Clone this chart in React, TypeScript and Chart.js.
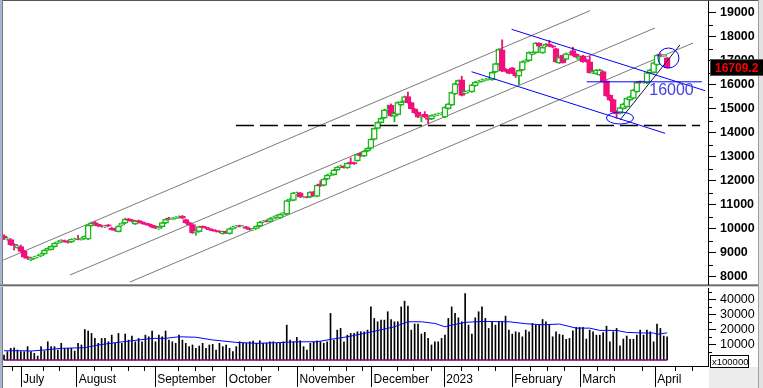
import React, { useEffect, useRef } from 'react';
import { Chart, registerables } from 'chart.js';

Chart.register(...registerables);

const FONT = '"Liberation Sans", Arial, Helvetica, sans-serif';

// ---------- DATA ----------
const opens = [
  9700, 9560, 9550, 9350, 9210, 9250, 9080, 8830, 8700, 8760,
  8820, 8870, 8950, 9110, 9130, 9250, 9400, 9440, 9500, 9470,
  9440, 9540, 9580, 9540, 9600, 9560, 10120, 10260, 10180, 10130,
  10060, 10160, 10030, 10000, 9880, 10150, 10230, 10410, 10370, 10190,
  10340, 10290, 10230, 10200, 10150, 10100, 9990, 10080, 10230, 10450,
  10390, 10430, 10470, 10530, 10380, 10260, 10170, 9840, 9880, 10100,
  10060, 10010, 9960, 9920, 9900, 9790, 9890, 9790, 9990, 10070,
  10130, 10080, 10080, 10000, 9950, 10010, 10110, 10270, 10340, 10290,
  10420, 10470, 10450, 10580, 10610, 11160, 11180, 11450, 11490, 11300,
  11330, 11310, 11540, 11340, 11870, 11800, 12060, 12220, 12250, 12440,
  12560, 12600, 12530, 12780, 12760, 12820, 13150, 13020, 13230, 13340,
  13720, 14180, 14420, 14610, 14930, 15150, 14680, 14750, 15150, 15290,
  15500, 15250, 14990, 14850, 14680, 14760, 14620, 14560, 14700, 14740,
  14770, 14650, 15000, 15150, 15600, 16000, 16200, 15640, 15700, 15700,
  15950, 16090, 16140, 16180, 16220, 16200, 16520, 16850, 17450, 16650,
  16600, 16700, 16480, 16350, 16600, 16950, 17000, 17260, 17330, 17730,
  17320, 17600, 17680, 17620, 17500, 16900, 17220, 17050, 17270, 17420,
  17270, 17050, 17200, 17050, 16950, 16480, 16450, 16400, 16550, 16150,
  15560, 15380, 14900, 14800, 15000, 15070, 15350, 15430, 15700, 16140,
  16080, 16060, 16480, 16500, 16820, 17250, 17180, 17120,
];
const closes = [
  9580, 9600, 9330, 9300, 9290, 9050, 8810, 8760, 8780, 8830,
  8870, 8950, 9110, 9180, 9270, 9400, 9450, 9520, 9460, 9430,
  9560, 9580, 9550, 9600, 9680, 10150, 10240, 10180, 10110, 10090,
  10110, 10110, 9960, 9930, 10110, 10230, 10400, 10350, 10300, 10330,
  10270, 10220, 10180, 10140, 10060, 10020, 10060, 10250, 10390, 10400,
  10430, 10480, 10510, 10440, 10240, 10170, 9830, 9900, 10090, 10050,
  10020, 9960, 9920, 9890, 9860, 9880, 9830, 10000, 10080, 10120,
  10090, 10110, 10010, 9960, 10000, 10110, 10280, 10320, 10300, 10420,
  10480, 10550, 10600, 10660, 11170, 11230, 11490, 11500, 11320, 11330,
  11300, 11530, 11380, 11820, 11780, 12070, 12230, 12290, 12450, 12560,
  12620, 12540, 12730, 12710, 12700, 13100, 13030, 13230, 13350, 13730,
  14180, 14430, 14600, 14950, 14980, 14700, 14820, 15270, 15290, 15500,
  15250, 15000, 14820, 14650, 14700, 14650, 14550, 14720, 14750, 14790,
  14820, 15070, 15200, 15680, 16050, 16180, 15550, 15720, 15740, 15990,
  16110, 16150, 16200, 16220, 16270, 16520, 16880, 17470, 16560, 16550,
  16470, 16480, 16380, 16600, 16960, 17030, 17350, 17340, 17740, 17600,
  17560, 17690, 17600, 17560, 16950, 17140, 16920, 17300, 17320, 17220,
  17150, 17180, 16950, 16960, 16500, 16560, 16620, 16620, 16120, 15530,
  15350, 14860, 14780, 15050, 15200, 15430, 15500, 15790, 16100, 16080,
  16130, 16500, 16620, 16920, 17230, 17200, 17220, 16709.2,
];
const highs = [
  9740, 9640, 9580, 9380, 9330, 9320, 9100, 8850, 8800, 8850,
  8900, 8980, 9130, 9210, 9290, 9420, 9480, 9550, 9530, 9490,
  9580, 9610, 9720, 9630, 9700, 10180, 10280, 10300, 10200, 10150,
  10140, 10180, 10060, 10020, 10130, 10260, 10440, 10430, 10390, 10350,
  10360, 10310, 10250, 10220, 10170, 10120, 10080, 10270, 10420, 10470,
  10450, 10500, 10540, 10550, 10400, 10280, 10210, 9930, 10110, 10120,
  10080, 10030, 9980, 9940, 9920, 9900, 9910, 10020, 10100, 10140,
  10150, 10130, 10100, 10020, 10020, 10130, 10300, 10340, 10360, 10440,
  10500, 10570, 10620, 10680, 11190, 11260, 11520, 11530, 11510, 11350,
  11350, 11550, 11560, 11840, 12000, 12090, 12260, 12320, 12470, 12580,
  12650, 12620, 12750, 12950, 12780, 13120, 13170, 13250, 13380, 13750,
  14200, 14460, 14630, 14980, 15150, 15200, 14850, 15290, 15320, 15530,
  15690, 15270, 15010, 14870, 14730, 14880, 14640, 14740, 14780, 14820,
  14850, 15090, 15230, 15700, 16080, 16200, 16350, 15750, 15770, 16010,
  16140, 16180, 16230, 16250, 16300, 16540, 16900, 17500, 17870, 16680,
  16620, 16720, 16500, 16620, 16980, 17060, 17370, 17370, 17760, 17750,
  17580, 17720, 17850, 17640, 17520, 17160, 17240, 17320, 17350, 17560,
  17290, 17200, 17220, 17070, 17180, 16590, 16640, 16650, 16570, 16170,
  15580, 15400, 14920, 15070, 15230, 15450, 15530, 15810, 16120, 16160,
  16150, 16520, 16650, 16940, 17250, 17300, 17250, 17140,
];
const lows = [
  9540, 9520, 9300, 9110, 9180, 9020, 8780, 8720, 8670, 8740,
  8800, 8850, 8930, 9090, 9110, 9230, 9380, 9420, 9440, 9400,
  9420, 9520, 9530, 9520, 9580, 9540, 10100, 10160, 10080, 10060,
  10040, 10090, 9940, 9900, 9860, 10130, 10210, 10330, 10280, 10170,
  10250, 10200, 10160, 10120, 10040, 10000, 9970, 10060, 10210, 10380,
  10370, 10410, 10450, 10420, 10220, 10150, 9800, 9730, 9860, 10030,
  10000, 9940, 9900, 9870, 9840, 9770, 9810, 9770, 9970, 10050,
  10070, 10060, 9990, 9940, 9930, 9990, 10090, 10250, 10280, 10270,
  10400, 10450, 10430, 10560, 10590, 11140, 11160, 11430, 11300, 11280,
  11280, 11290, 11360, 11320, 11760, 11780, 12040, 12200, 12230, 12420,
  12540, 12520, 12510, 12690, 12680, 12800, 13010, 13000, 13210, 13320,
  13700, 14160, 14400, 14590, 14800, 14680, 14450, 14730, 15130, 15270,
  15230, 14980, 14800, 14630, 14450, 14630, 14380, 14540, 14680, 14720,
  14750, 14630, 14980, 15130, 15580, 15980, 15530, 15620, 15680, 15680,
  15930, 16070, 16120, 16160, 16200, 16180, 16500, 16830, 16540, 16530,
  16450, 16460, 16300, 15990, 16580, 16930, 16980, 17240, 17310, 17580,
  17300, 17580, 17580, 17540, 16930, 16880, 16900, 17030, 17250, 17200,
  17130, 17030, 16930, 16940, 16480, 16460, 16430, 16380, 16100, 15510,
  15330, 14840, 14600, 14780, 14980, 15050, 15330, 15410, 15680, 16060,
  16060, 16040, 16460, 16480, 16800, 17180, 17160, 16690,
];
// volume in units of 100000
const volumes = [
  3300, 5500, 7700, 8100, 6600, 5500, 5500, 8800, 5500, 4400, 2600,
  8800, 5900, 12000, 8800, 8800, 6600, 11000, 7700, 7700, 7700, 5900, 11000, 9900,
  20100, 19100, 17500, 14200, 11000, 14200, 14200,
  12000, 16400, 11000, 17500, 11000, 17100, 13100, 15800, 12000, 14200, 12000, 16400, 15300,
  19100, 12000, 16400, 15300, 19100, 13100, 12000, 11000, 16400,
  13100, 11000, 8800, 9900, 7700, 9200, 11000, 7700, 9900, 10300,
  6600, 11000, 8800, 9900, 7700, 5500, 8800, 12000, 11000, 11000,
  12000, 12500, 11000, 12700, 11000, 11000, 12000, 12000, 11000, 11000, 12000,
  23000, 13100, 12000, 14900, 12700, 8800,
  6600, 11000, 12000, 12700, 12000, 11000, 12000, 30700,
  13100, 19700, 20800, 12000, 16400, 17500, 17500, 18600, 18600, 18600,
  19700, 35000, 27400, 25200, 26300,
  26300, 31800, 26700, 25200, 25200, 35000, 38800, 35500, 19700, 23700,
  23700, 17100, 18200, 14200, 9900, 12000, 12000, 14200, 16400, 27400,
  35000, 30700, 27800, 25200, 43800, 23000, 17100, 27800, 31800, 35000,
  27400, 20800, 25200, 23000, 25200, 25200, 28900, 19700, 17100, 18600,
  18000, 15300, 19700, 18600, 24100, 23000, 23000, 26700, 25200, 23000,
  15300, 18600, 16900, 16400, 13600, 14200, 19300, 21500, 21500, 21500,
  13800, 19700, 18600, 16400, 16400, 18000, 22300, 12000, 18600, 20800,
  9400, 13800, 15800, 13600, 13600, 16400, 19700, 16400, 19700, 18600,
  12000, 23700, 20800, 15800, 15300,
];
// moving average of volume, read at [bar index, value]
const volumeMA = [
  [0, 6100], [6, 6100], [8, 5900], [12, 6600], [17, 7700], [24, 8100], [28, 9900],
  [33, 11400], [38, 12700], [44, 14200], [48, 14300], [52, 15300], [57, 15000],
  [62, 13200], [69, 11600], [75, 11000], [81, 11400], [87, 12000], [93, 12000],
  [97, 13600], [102, 15300], [107, 17500], [112, 19900], [116, 21900], [120, 25200],
  [124, 25200], [128, 24100], [131, 21900], [133, 23000], [137, 24800], [142, 25400],
  [150, 25200], [155, 23900], [160, 23200], [165, 23700], [170, 21000], [174, 21000],
  [177, 19500], [182, 19500], [185, 18200], [190, 17800], [193, 17800], [194, 16900],
  [197, 17900],
];

const monthLabels = ['July', 'August', 'September', 'October', 'November', 'December', '2023', 'February', 'March', 'April'];
const monthTickIdx = [5.05, 21.6, 44.9, 66.2, 87.2, 109.2, 130.8, 151.0, 171.2, 193.5];
const weekTickIdx = [2.3, 11.5, 16.4, 26.8, 31.8, 36.7, 41.7, 51.8, 56.7, 61.7, 71.4, 76.4, 81.3, 91.9, 96.6, 101.5, 106.4, 116.7, 121.6, 126.8, 135.8, 140.9, 145.9, 156.3, 161.2, 166.5, 176.3, 181.3, 189.6, 199.3, 204.5];
const priceTicks = [8000, 9000, 10000, 11000, 12000, 13000, 14000, 15000, 16000, 17000, 18000, 19000];
const priceMinorTicks = [8500, 9500, 10500, 11500, 12500, 13500, 14500, 15500, 16500, 17500, 18500];
const volumeTicks = [10000, 20000, 30000, 40000];
const volumeMinorTicks = [5000, 15000, 25000, 35000, 45000];

// drawn lines: [[x1, y1], [x2, y2]] in (bar index, price)
const channelLines = [
  [[-0.2, 8695], [174.1, 19083]],
  [[19.6, 8070], [193.4, 18362]],
  [[37.4, 7778], [204.7, 17737]],
];
const blueLines = [
  [[150.8, 18308], [208.3, 15750]],
  [[138.9, 16541], [196.4, 13975]],
  [[173.1, 16120], [207.3, 16120]],
];
const supportUpLine = [[183.0, 14529], [200.8, 17654]];
const dashedLevel = [[68.9, 14300], [206.8, 14300]];
const markedEllipses = [
  { x: 197.4, y: 17112, rx: 10.5, ry: 10 },
  { x: 183.0, y: 14612, rx: 13.5, ry: 6 },
];
const noteText = { x: 198.3, y: 15758, text: '16000' };
const lastPrice = 16709.2;
const lastPriceLabel = '16709.2';

// ---------- STYLE ----------
const GREEN = '#1cb81c';
const PINK = '#f20f7c';
const X_MIN = -0.3;
const X_MAX = 209.15;

const toPts = (seg: number[][]) => seg.map(([x, y]) => ({ x, y }));

function lineDs(seg: number[][], color: string, order: number, width = 1, dash: number[] = []) {
  return {
    type: 'line' as const,
    data: toPts(seg),
    borderColor: color,
    borderWidth: width,
    borderDash: dash,
    pointRadius: 0,
    fill: false,
    order,
  };
}

const noPadY = (s: any) => {
  s.width = 55;
  s.paddingTop = 0;
  s.paddingBottom = 0;
};

const pricePlugin = {
  id: 'priceDecor',
  afterDraw(chart: any) {
    const { ctx, scales } = chart;
    const xs = scales.x;
    const ys = scales.y;
    const area = chart.chartArea;
    ctx.save();
    ctx.strokeStyle = '#000';
    ctx.lineWidth = 1;
    priceMinorTicks.forEach((v) => {
      const y = Math.round(ys.getPixelForValue(v)) + 0.5;
      ctx.beginPath();
      ctx.moveTo(area.right, y);
      ctx.lineTo(area.right + 5, y);
      ctx.stroke();
    });
    ctx.save();
    ctx.beginPath();
    ctx.rect(area.left, area.top, area.right - area.left, area.bottom - area.top);
    ctx.clip();
    ctx.strokeStyle = '#0000ff';
    ctx.lineWidth = 1;
    markedEllipses.forEach((e) => {
      ctx.beginPath();
      ctx.ellipse(xs.getPixelForValue(e.x), ys.getPixelForValue(e.y), e.rx, e.ry, 0, 0, Math.PI * 2);
      ctx.stroke();
    });
    ctx.fillStyle = '#4444dd';
    ctx.font = `16px ${FONT}`;
    ctx.textAlign = 'center';
    ctx.textBaseline = 'middle';
    ctx.fillText(noteText.text, xs.getPixelForValue(noteText.x), ys.getPixelForValue(noteText.y));
    ctx.restore();
    const ly = Math.round(ys.getPixelForValue(lastPrice));
    ctx.fillStyle = '#000';
    ctx.fillRect(710, ly - 9, 53, 17);
    ctx.strokeStyle = '#555';
    ctx.strokeRect(710.5, ly - 8.5, 53, 16);
    ctx.fillStyle = '#ff0000';
    ctx.font = `bold 12px ${FONT}`;
    ctx.textAlign = 'left';
    ctx.textBaseline = 'middle';
    ctx.fillText(lastPriceLabel, 715, ly + 0.5);
    ctx.restore();
  },
};

const volumePlugin = {
  id: 'volDecor',
  afterDraw(chart: any) {
    const { ctx, scales } = chart;
    const xs = scales.x;
    const ys = scales.y;
    const area = chart.chartArea;
    ctx.save();
    ctx.strokeStyle = '#000';
    ctx.lineWidth = 1;
    weekTickIdx.forEach((v) => {
      const x = Math.round(xs.getPixelForValue(v)) + 0.5;
      ctx.beginPath();
      ctx.moveTo(x, area.bottom);
      ctx.lineTo(x, area.bottom + 5);
      ctx.stroke();
    });
    volumeMinorTicks.forEach((v) => {
      const y = Math.round(ys.getPixelForValue(v)) + 0.5;
      ctx.beginPath();
      ctx.moveTo(area.right, y);
      ctx.lineTo(area.right + 4, y);
      ctx.stroke();
    });
    ctx.fillStyle = '#ffffff';
    ctx.fillRect(710, 68, 39, 12);
    ctx.strokeStyle = '#000';
    ctx.strokeRect(710.5, 68.5, 38, 12);
    ctx.fillStyle = '#000';
    ctx.font = `9.5px ${FONT}`;
    ctx.textAlign = 'left';
    ctx.textBaseline = 'middle';
    ctx.fillText('x100000', 712, 75);
    ctx.restore();
  },
};

export default function App() {
  const priceRef = useRef<HTMLCanvasElement>(null);
  const volRef = useRef<HTMLCanvasElement>(null);

  useEffect(() => {
    const n = closes.length;
    const up = closes.map((c, i) => c >= opens[i]);
    const wickData = highs.map((h, i) => ({ x: i, y: [lows[i], h] }));
    const bodyData = opens.map((o, i) => ({ x: i, y: [o, closes[i]] }));

    const priceChart = new Chart(priceRef.current as HTMLCanvasElement, {
      type: 'bar',
      data: {
        datasets: [
          ...channelLines.map((s) => lineDs(s, '#7a7a7a', 5)),
          {
            type: 'bar',
            data: wickData,
            backgroundColor: up.map((u) => (u ? GREEN : PINK)),
            barThickness: 1.2,
            grouped: false,
            order: 3,
          } as any,
          {
            type: 'bar',
            data: bodyData,
            backgroundColor: up.map((u) => (u ? '#ffffff' : PINK)),
            borderColor: up.map((u) => (u ? GREEN : PINK)),
            borderWidth: 1.5,
            borderSkipped: false,
            barThickness: 6,
            grouped: false,
            order: 2,
          } as any,
          lineDs(dashedLevel, '#000000', 1, 1.5, [18, 6]),
          ...blueLines.map((s) => lineDs(s, '#0000ff', 0)),
          lineDs(supportUpLine, '#101050', 0),
        ] as any,
      },
      options: {
        animation: false,
        responsive: false,
        maintainAspectRatio: false,
        events: [],
        layout: { padding: { left: 3, top: 1, right: 0, bottom: 3 } },
        plugins: { legend: { display: false }, tooltip: { enabled: false } },
        scales: {
          x: {
            type: 'linear',
            display: false,
            min: X_MIN,
            max: X_MAX,
            offset: false,
            grid: { offset: false },
          },
          y: {
            type: 'linear',
            position: 'right',
            min: 7696,
            max: 19487,
            afterBuildTicks: (s: any) => {
              s.ticks = priceTicks.map((v) => ({ value: v }));
            },
            afterFit: noPadY,
            ticks: {
              color: '#000',
              padding: 4,
              font: { family: FONT, size: 12.5, weight: 'bold' },
              callback: (v: any) => String(v),
            },
            grid: { drawOnChartArea: false, drawTicks: true, tickLength: 8, color: '#000', tickColor: '#000' },
            border: { display: true, color: '#000', width: 1 },
          },
        },
      } as any,
      plugins: [pricePlugin],
    });

    const volChart = new Chart(volRef.current as HTMLCanvasElement, {
      type: 'bar',
      data: {
        datasets: [
          {
            type: 'bar',
            data: volumes.map((v, i) => ({ x: i, y: v })),
            backgroundColor: '#000000',
            barThickness: 1,
            grouped: false,
            order: 3,
          } as any,
          {
            type: 'line',
            data: volumeMA.map(([x, y]) => ({ x, y })),
            borderColor: '#0000ff',
            borderWidth: 1,
            pointRadius: 0,
            fill: false,
            order: 1,
          } as any,
          {
            type: 'line',
            data: [{ x: 0, y: 0 }, { x: n - 1, y: 0 }],
            borderColor: '#800080',
            borderWidth: 1.5,
            pointRadius: 0,
            fill: false,
            order: 0,
          } as any,
        ],
      },
      options: {
        animation: false,
        responsive: false,
        maintainAspectRatio: false,
        events: [],
        layout: { padding: { left: 3, top: 1, right: 0, bottom: 0 } },
        plugins: { legend: { display: false }, tooltip: { enabled: false } },
        scales: {
          x: {
            type: 'linear',
            position: 'bottom',
            min: X_MIN,
            max: X_MAX,
            offset: false,
            afterBuildTicks: (s: any) => {
              s.ticks = monthTickIdx.map((v) => ({ value: v }));
            },
            afterFit: (s: any) => {
              s.height = 22;
              s.paddingLeft = 0;
              s.paddingRight = 0;
            },
            ticks: {
              autoSkip: false,
              maxRotation: 0,
              minRotation: 0,
              align: 'start',
              labelOffset: 2,
              padding: -15,
              color: '#000',
              font: { family: FONT, size: 12 },
              callback: (v: any) => {
                const k = monthTickIdx.indexOf(v);
                return k >= 0 ? monthLabels[k] : '';
              },
            },
            grid: { offset: false, drawOnChartArea: false, drawTicks: true, tickLength: 21, color: '#000', tickColor: '#000' },
            border: { display: true, color: '#000', width: 1 },
          },
          y: {
            type: 'linear',
            position: 'right',
            min: -3954,
            max: 47446,
            afterBuildTicks: (s: any) => {
              s.ticks = volumeTicks.map((v) => ({ value: v }));
            },
            afterFit: noPadY,
            ticks: {
              color: '#000',
              padding: 4,
              font: { family: FONT, size: 12.5 },
              callback: (v: any) => String(v),
            },
            grid: { drawOnChartArea: false, drawTicks: true, tickLength: 8, color: '#000', tickColor: '#000' },
            border: { display: true, color: '#000', width: 1 },
          },
        },
      } as any,
      plugins: [volumePlugin],
    });

    return () => {
      priceChart.destroy();
      volChart.destroy();
    };
  }, []);

  const abs = (s: React.CSSProperties): React.CSSProperties => ({ position: 'absolute', ...s });

  return (
    <div style={{ position: 'fixed', left: 0, top: 0, width: 763, height: 388, background: '#ffffff', overflow: 'hidden' }}>
      <div style={abs({ left: 0, top: 0, width: 763, height: 1, background: '#555555' })} />
      <div style={abs({ left: 0, top: 0, width: 2, height: 388, background: '#a6b6d2' })} />
      <div style={abs({ left: 2, top: 0, width: 1, height: 388, background: '#7a7a7a' })} />
      <div style={abs({ left: 0, top: 284, width: 763, height: 1, background: '#9a9a9a' })} />
      <div style={abs({ left: 0, top: 285, width: 763, height: 1, background: '#6e6e6e' })} />
      <div style={abs({ left: 0, top: 286, width: 763, height: 1, background: '#cfcfcf' })} />
      <div style={abs({ left: 709, top: 367, width: 49, height: 21, background: '#ececec' })} />
      <div style={abs({ left: 758, top: 0, width: 1, height: 388, background: '#a0a0a0' })} />
      <div style={abs({ left: 759, top: 0, width: 4, height: 388, background: '#e2e2e2' })} />
      <canvas ref={priceRef} width={763} height={287} style={abs({ left: 0, top: 0 })} />
      <canvas ref={volRef} width={763} height={101} style={abs({ left: 0, top: 287 })} />
    </div>
  );
}
